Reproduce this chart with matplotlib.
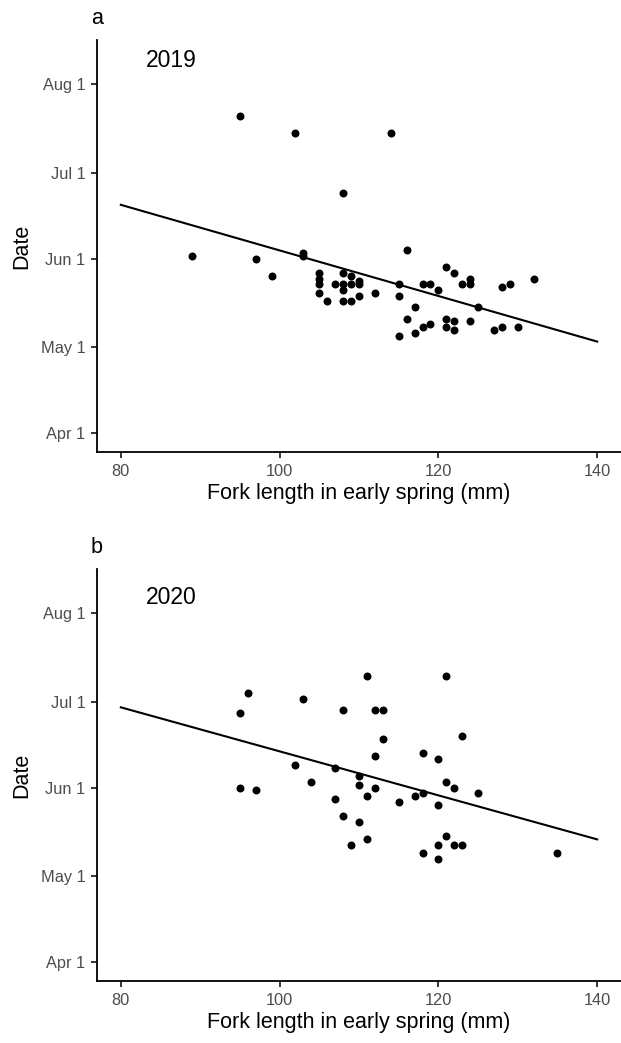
import matplotlib
matplotlib.use("Agg")
import matplotlib.pyplot as plt
import numpy as np

plt.rcParams['font.family'] = ['Liberation Sans', 'DejaVu Sans']

# day of year (non-leap)
tick_days = [91, 121, 152, 182, 213]
tick_labels = ['Apr 1', 'May 1', 'Jun 1', 'Jul 1', 'Aug 1']

# 2019
len_2019 = [95, 102, 114, 108, 89, 97, 99, 103, 103,
            105, 105, 105, 105, 106, 107, 108, 108, 108, 108,
            109, 109, 109, 110, 110, 110, 112,
            115, 115, 115, 116, 116, 117, 117, 118, 118, 119, 119, 120,
            121, 121, 121, 122, 122, 122, 123, 124, 124, 124, 125,
            127, 128, 128, 129, 130, 132]
day_2019 = [202, 196, 196, 175, 153, 152, 146, 154, 153,
            147, 145, 143, 140, 137, 143, 147, 143, 141, 137,
            146, 143, 137, 144, 143, 139, 140,
            143, 139, 125, 155, 131, 135, 126, 143, 128, 143, 129, 141,
            149, 131, 128, 147, 130, 127, 143, 145, 143, 130, 135,
            127, 142, 128, 143, 128, 145]

# 2020
len_2020 = [95, 95, 96, 97, 102, 103, 104, 107, 107, 108, 108, 109,
            110, 110, 110, 111, 111, 111, 112, 112, 112, 113, 113,
            115, 117, 118, 118, 118, 120, 120, 120, 120,
            121, 121, 121, 122, 122, 123, 123, 125, 135]
day_2020 = [178, 152, 185, 151, 160, 183, 154, 159, 148, 179, 142, 132,
            156, 153, 140, 191, 149, 134, 179, 163, 152, 179, 169,
            147, 149, 164, 150, 129, 162, 146, 132, 127,
            191, 154, 135, 152, 132, 170, 132, 150, 129]

panels = [('a', '2019', len_2019, day_2019),
          ('b', '2020', len_2020, day_2020)]

W, H = 621, 1043
fig = plt.figure(figsize=(W / 100, H / 100), dpi=100)
# axes boxes in pixels: left, top, right, bottom
pix = [(97, 40, 621, 452), (97, 569, 621, 981)]
year_y = [221.4, 218.6]
tag_base = [23.5, 553]

for i, (tag, year, fl, dd) in enumerate(panels):
    l, t, r, b = pix[i]
    ax = fig.add_axes([l / W, 1 - b / H, (r - l) / W, (b - t) / H])
    ax.scatter(fl, dd, s=33, color='black', zorder=3, linewidths=0)
    # lm fit drawn over the full x range
    b1, b0 = np.polyfit(fl, dd, 1)
    xs = np.array([80, 140])
    ax.plot(xs, b0 + b1 * xs, color='black', lw=1.5)

    ax.set_xlim(77, 143)
    ax.set_ylim(84.36, 228.4)
    ax.set_xticks([80, 100, 120, 140])
    ax.set_yticks(tick_days)
    ax.set_yticklabels(tick_labels)
    for s in ['top', 'right']:
        ax.spines[s].set_visible(False)
    for s in ['left', 'bottom']:
        ax.spines[s].set_linewidth(1.3)
    ax.tick_params(length=4.3, width=1.1, labelsize=11.8, labelcolor='#4D4D4D', pad=4)
    ax.set_xlabel('Fork length in early spring (mm)', fontsize=15.5, labelpad=3.5)
    ax.set_ylabel('Date', fontsize=15.5, labelpad=6)
    ax.text(86.4, year_y[i], year, fontsize=16.5, ha='center', va='center')
    fig.text(91 / W, 1 - tag_base[i] / H, tag, fontsize=15.5, ha='left', va='baseline')

fig.savefig('out.png', dpi=100)
